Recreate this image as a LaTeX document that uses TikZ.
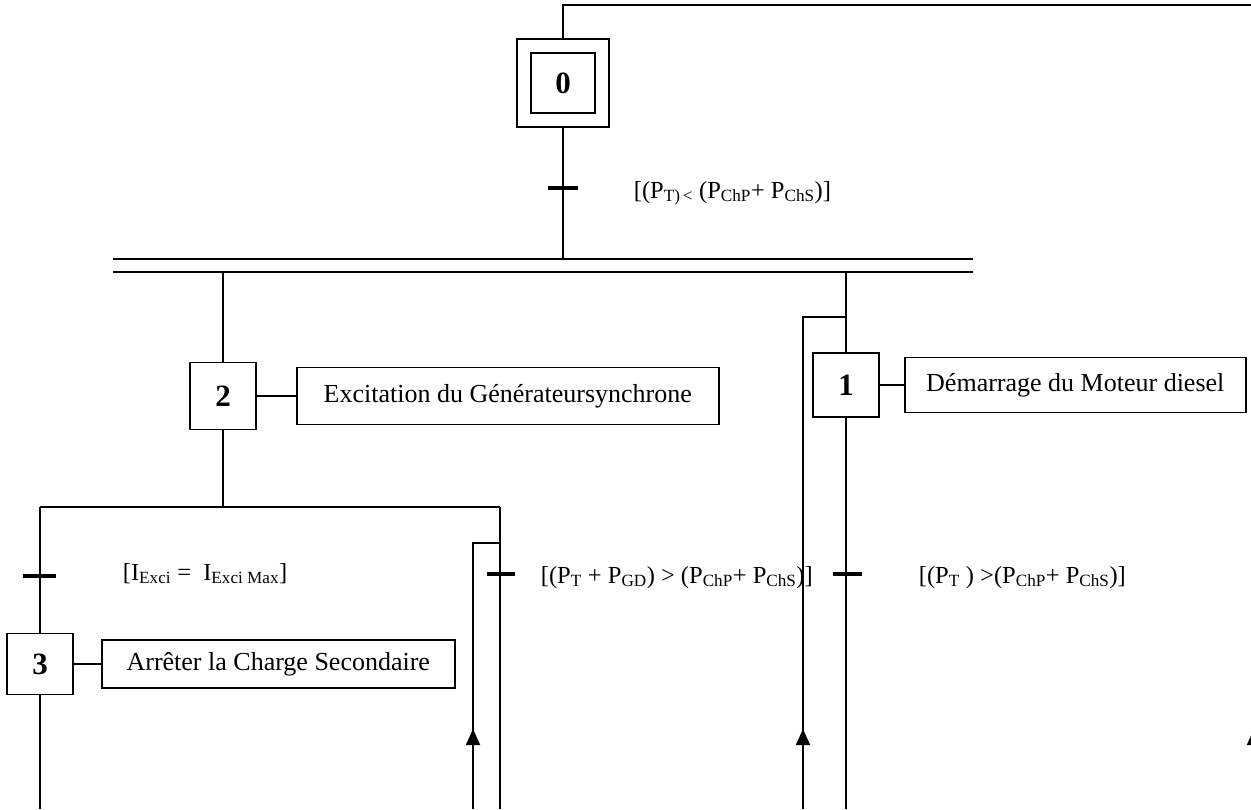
\documentclass[tikz,border=0pt]{standalone}
\usepackage{fontspec}
\setmainfont{Liberation Serif}
\usetikzlibrary{positioning,arrows.meta}

\begin{document}
\begin{tikzpicture}[
  x=1pt, y=-1pt,
  line width=1.8pt,
  stepbox/.style={
    rectangle, draw, inner sep=0pt,
    font=\fontsize{31}{31}\selectfont\bfseries,
    minimum width=66pt, minimum height=64pt
  },
  initstep/.style={
    stepbox, double, double distance=12pt, outer sep=6.9pt,
    minimum width=78pt, minimum height=74pt
  },
  action/.style={
    rectangle, draw, inner sep=0pt,
    font=\fontsize{26}{30}\selectfont,
    minimum height=56pt
  },
  cond/.style={
    anchor=base west, inner sep=0pt,
    font=\fontsize{24.5}{28}\selectfont
  },
  tick/.style={line width=4pt},
  uparrow/.style={-{Triangle[width=14pt,length=16pt]}}
]
\useasboundingbox (0,0) rectangle (1251,809);

% =====================================================
% INITIAL STEP
% =====================================================

\node[initstep] (s0) at (563,83) {0};

\coordinate (t0) at (563,188);
\draw[tick] ([xshift=-15pt]t0) -- ([xshift=15pt]t0);
\node[cond] (c0) at (633,198)
{[(P\textsubscript{T)\,<} (P\textsubscript{ChP}+ P\textsubscript{ChS})]};

% return line coming back from the right
\coordinate (ret) at (1254,809);
\coordinate (top) at (563,5);
\draw (ret) |- (top) -- (s0.north);
\draw[uparrow] (1254,760) -- (1254,729);

% =====================================================
% SIMULTANEOUS DIVERGENCE
% =====================================================

\coordinate (barL) at (113,259);
\coordinate (barR) at (973,259);
\draw (barL) -- (barR);
\draw ([yshift=-13pt]barL) coordinate (barB) -- ([yshift=-13pt]barR);

\draw (s0.south) -- (s0.south |- barL);

% =====================================================
% LEFT BRANCH: STEP 2
% =====================================================

\node[stepbox, minimum height=67pt] (s2) at (223,396) {2};
\node[action, right=39pt of s2, minimum width=422pt, minimum height=57pt] (a2)
{Excitation du Générateursynchrone};
\draw (s2) -- (a2);
\draw (s2.north |- barB) -- (s2.north);

% selection between step 3 and the loop back
\coordinate (orL) at (40,507);
\coordinate (orR) at (500,507);
\draw (s2.south) -- (s2.south |- orL);
\draw (orL) -- (orR);

\node[stepbox, minimum height=61pt] (s3) at (40,664) {3};
\node[action, right=27pt of s3, minimum width=353pt, minimum height=48pt] (a3)
{Arrêter la Charge Secondaire};
\draw (s3) -- (a3);

\coordinate (t1) at (40,576);
\draw (orL) -- (s3.north);
\draw[tick] ([xshift=-17pt]t1) -- ([xshift=16pt]t1);
\node[cond] (c1) at (122,580)
{[I\textsubscript{Exci} =\ \ I\textsubscript{Exci Max}]};

\coordinate (s3out) at (40,809);
\draw (s3.south) -- (s3out);

\coordinate (t2) at (500,574);
\coordinate (out2) at (500,809);
\draw (orR) -- (out2);
\draw[tick] ([xshift=-13pt]t2) -- ([xshift=15pt]t2);
\node[cond] (c2) at (540,583)
{[(P\textsubscript{T} + P\textsubscript{GD}) > (P\textsubscript{ChP}+ P\textsubscript{ChS})]};

% loop back into step 2 branch
\coordinate (back2) at (473,809);
\coordinate (join2) at (500,543);
\draw (back2) |- (join2);
\draw[uparrow] (473,760) -- (473,729);

% =====================================================
% RIGHT BRANCH: STEP 1
% =====================================================

\node[stepbox] (s1) at (846,385) {1};
\node[action, right=24pt of s1, minimum width=341pt, minimum height=55pt] (a1)
{Démarrage du Moteur diesel};
\draw (s1) -- (a1);
\draw (s1.north |- barB) -- (s1.north);

\coordinate (t3) at (846,574);
\coordinate (out1) at (846,809);
\draw (s1.south) -- (out1);
\draw[tick] ([xshift=-13pt]t3) -- ([xshift=16pt]t3);
\node[cond] (c3) at (918,583)
{[(P\textsubscript{T} ) >(P\textsubscript{ChP}+ P\textsubscript{ChS})]};

% loop back into step 1 branch
\coordinate (back1) at (803,809);
\coordinate (join1) at (846,317);
\draw (back1) |- (join1);
\draw[uparrow] (803,760) -- (803,729);

\end{tikzpicture}
\end{document}
